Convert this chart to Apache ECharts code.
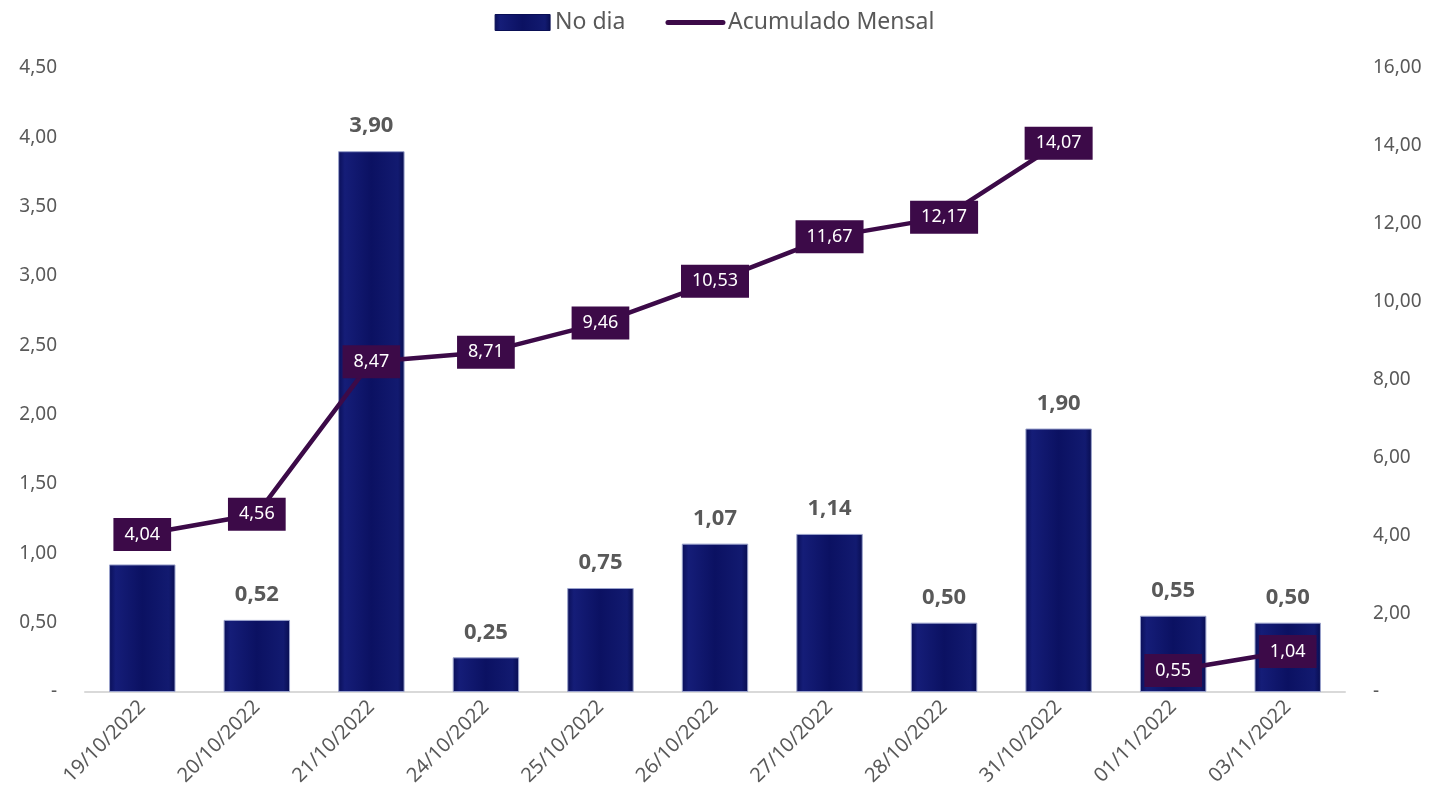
<!DOCTYPE html>
<html>
<head>
<meta charset="utf-8">
<script src="https://cdn.jsdelivr.net/npm/echarts@6/dist/echarts.min.js"></script>
<style>html,body{margin:0;padding:0;background:#fff}#c{width:1429px;height:810px}</style>
</head>
<body>
<div id="c"></div>
<script>
const categories = ['19/10/2022','20/10/2022','21/10/2022','24/10/2022','25/10/2022','26/10/2022','27/10/2022','28/10/2022','31/10/2022','01/11/2022','03/11/2022'];
const noDia = [0.92, 0.52, 3.90, 0.25, 0.75, 1.07, 1.14, 0.50, 1.90, 0.55, 0.50];
const acumulado = [4.04, 4.56, 8.47, 8.71, 9.46, 10.53, 11.67, 12.17, 14.07, 0.55, 1.04];
const hiddenBarLabels = [0];

const fmt = v => (v === 0 ? '-' : Number(v).toFixed(2).replace('.', ','));
const month = c => c.split('/')[1];
const firstMonth = month(categories[0]);
const lineOct = acumulado.map((v, i) => month(categories[i]) === firstMonth ? v : null);
const lineNov = acumulado.map((v, i) => month(categories[i]) !== firstMonth ? v : null);

const FONT = 'Noto Sans';
const barColor = {
  type: 'linear', x: 0, y: 0, x2: 1, y2: 0,
  colorStops: [
    {offset: 0, color: '#0a0f58'},
    {offset: 0.1, color: '#151d78'},
    {offset: 0.5, color: '#0b1162'},
    {offset: 0.9, color: '#121a70'},
    {offset: 1, color: '#080d50'}
  ]
};
const lineLabel = {
  show: true, position: 'inside', formatter: p => fmt(p.value),
  color: '#ffffff', backgroundColor: '#3c0a48', fontFamily: FONT, fontSize: 18,
  padding: [8, 11, 7, 11]
};
const lineSeries = data => ({
  name: 'Acumulado Mensal', type: 'line', yAxisIndex: 1,
  data: data, connectNulls: false, symbol: 'circle', symbolSize: 0, showSymbol: true,
  lineStyle: {color: '#3c0a48', width: 4.5, cap: 'round'}, itemStyle: {color: '#3c0a48'},
  label: lineLabel, z: 5
});

const chart = echarts.init(document.getElementById('c'));
chart.setOption({
  animation: false,
  textStyle: {fontFamily: FONT},
  legend: {
    top: 6, left: 'center', itemGap: 40, itemWidth: 55, itemHeight: 16,
    textStyle: {color: '#595959', fontSize: 23, fontFamily: FONT},
    data: [
      {name: 'No dia', icon: 'rect', itemStyle: {color: barColor, borderColor: '#0a0f55', borderWidth: 1}},
      {name: 'Acumulado Mensal', itemStyle: {opacity: 0}, lineStyle: {width: 5, color: '#3c0a48', cap: 'round'}}
    ]
  },
  grid: {left: 85, right: 84, top: 68, bottom: 118},
  xAxis: {
    type: 'category', data: categories,
    axisLine: {lineStyle: {color: '#d9d9d9', width: 2}},
    axisTick: {show: false},
    axisLabel: {rotate: 45, color: '#595959', fontSize: 20, fontFamily: FONT, margin: 12}
  },
  yAxis: [
    {type: 'value', min: 0, max: 4.5, interval: 0.5, splitLine: {show: false},
     axisLine: {show: false}, axisTick: {show: false},
     axisLabel: {formatter: fmt, color: '#595959', fontSize: 19, fontFamily: FONT, margin: 28}},
    {type: 'value', min: 0, max: 16, interval: 2, splitLine: {show: false},
     axisLine: {show: false}, axisTick: {show: false},
     axisLabel: {formatter: fmt, color: '#595959', fontSize: 19, fontFamily: FONT, margin: 28}}
  ],
  series: [
    {
      name: 'No dia', type: 'bar', yAxisIndex: 0, barCategoryGap: '42%',
      itemStyle: {color: barColor, borderColor: '#9aa2cc', borderWidth: 1},
      label: {show: true, position: 'top', distance: 14, formatter: p => fmt(p.value),
              color: '#595959', fontSize: 22, fontWeight: 'bold', fontFamily: FONT},
      data: noDia.map((v, i) => hiddenBarLabels.includes(i) ? {value: v, label: {show: false}} : v),
      z: 2
    },
    lineSeries(lineOct),
    lineSeries(lineNov)
  ]
});
</script>
</body>
</html>
